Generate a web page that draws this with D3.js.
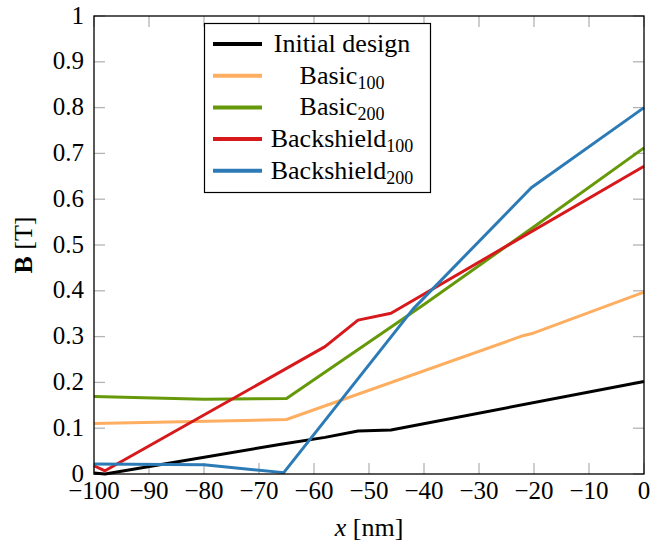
<!DOCTYPE html>
<html>
<head>
<meta charset="utf-8">
<script src="https://cdn.jsdelivr.net/npm/d3@7"></script>
<style>
  html, body { margin: 0; padding: 0; background: #fff; }
</style>
</head>
<body>
<div id="chart"></div>
<script>
// values: [x in nm, B in T]
const initialDesign = [[-100, 0.002], [-98, 0.0], [-66, 0.065], [-58, 0.08], [-52, 0.094], [-46, 0.096], [0, 0.202]];
const basic100 = [[-100, 0.11], [-65, 0.119], [-22, 0.302], [-20, 0.308], [0, 0.397]];
const basic200 = [[-100, 0.169], [-80, 0.163], [-65, 0.165], [-40, 0.37], [-20, 0.54], [0, 0.712]];
const backshield100 = [[-100, 0.018], [-98, 0.007], [-58, 0.278], [-52, 0.336], [-46, 0.351], [0, 0.672]];
const backshield200 = [[-100, 0.022], [-80, 0.02], [-65.5, 0.003], [-42, 0.36], [-20.5, 0.625], [0, 0.80]];

const seriesNames = [["Initial design", ""], ["Basic", "100"], ["Basic", "200"], ["Backshield", "100"], ["Backshield", "200"]];
const seriesData = [initialDesign, basic100, basic200, backshield100, backshield200];
const seriesColors = ["#000000", "#fdae61", "#66990a", "#d7191c", "#2c7bb6"];

const xTicks = [-100, -90, -80, -70, -60, -50, -40, -30, -20, -10, 0];
const yTicks = [0, 0.1, 0.2, 0.3, 0.4, 0.5, 0.6, 0.7, 0.8, 0.9, 1];

const W = 652, H = 544;
const m = { t: 16, r: 8, b: 70, l: 94 };
const FONT = "Liberation Serif";
const svg = d3.select("#chart").append("svg").attr("width", W).attr("height", H);

const x = d3.scaleLinear().domain([-100, 0]).range([m.l, W - m.r]);
const y = d3.scaleLinear().domain([0, 1]).range([H - m.b, m.t]);
const fs = 25, tl = 11;
const fmtX = d => (d < 0 ? "\u2212" + Math.abs(d) : String(d));
const fmtY = d => String(+d.toFixed(1));

// inside ticks on all four sides, grey
const tk = svg.append("g").attr("stroke", "#b4b4b4").attr("stroke-width", 1.3);
xTicks.forEach(t => {
  tk.append("line").attr("x1", x(t)).attr("x2", x(t)).attr("y1", y(0)).attr("y2", y(0) - tl);
  tk.append("line").attr("x1", x(t)).attr("x2", x(t)).attr("y1", y(1)).attr("y2", y(1) + tl);
});
yTicks.forEach(t => {
  tk.append("line").attr("x1", x(-100)).attr("x2", x(-100) + tl).attr("y1", y(t)).attr("y2", y(t));
  tk.append("line").attr("x1", x(0)).attr("x2", x(0) - tl).attr("y1", y(t)).attr("y2", y(t));
});

// tick labels
svg.append("g").selectAll("text").data(xTicks).join("text")
  .attr("x", d => x(d)).attr("y", y(0) + 25).attr("text-anchor", "middle")
  .attr("font-family", FONT).attr("font-size", fs).text(fmtX);
svg.append("g").selectAll("text").data(yTicks).join("text")
  .attr("x", x(-100) - 10).attr("y", d => y(d) + 7.5).attr("text-anchor", "end")
  .attr("font-family", FONT).attr("font-size", fs).text(fmtY);

// series
const line = d3.line().x(d => x(d[0])).y(d => y(d[1]));
const plot = svg.append("g");
seriesData.forEach((s, i) => {
  plot.append("path").datum(s).attr("d", line)
    .attr("fill", "none").attr("stroke", seriesColors[i])
    .attr("stroke-width", 3).attr("stroke-linejoin", "round");
});

// frame
svg.append("rect").attr("x", x(-100)).attr("y", y(1))
  .attr("width", x(0) - x(-100)).attr("height", y(0) - y(1))
  .attr("fill", "none").attr("stroke", "#000").attr("stroke-width", 1.3);

// legend
const lg = svg.append("g");
lg.append("rect").attr("x", 204.5).attr("y", 23.5).attr("width", 226).attr("height", 169)
  .attr("fill", "#fff").attr("stroke", "#000").attr("stroke-width", 1.2);
seriesNames.forEach((nm, i) => {
  const ry = 44 + i * 31.7;
  lg.append("line").attr("x1", 213).attr("x2", 262).attr("y1", ry).attr("y2", ry)
    .attr("stroke", seriesColors[i]).attr("stroke-width", 4);
  const t = lg.append("text").attr("x", 342).attr("y", ry + 8).attr("text-anchor", "middle")
    .attr("font-family", FONT).attr("font-size", 26);
  t.append("tspan").text(nm[0]);
  if (nm[1]) t.append("tspan").attr("dy", 5).attr("font-size", 18).text(nm[1]);
});

// axis labels
const xl = svg.append("text").attr("x", (x(-100) + x(0)) / 2).attr("y", 536)
  .attr("text-anchor", "middle").attr("font-family", FONT).attr("font-size", 26);
xl.append("tspan").attr("font-style", "italic").text("x");
xl.append("tspan").text(" [nm]");

const yl = svg.append("text").attr("transform", `translate(32,${(y(0) + y(1)) / 2}) rotate(-90)`)
  .attr("text-anchor", "middle").attr("font-family", FONT).attr("font-size", 26);
yl.append("tspan").attr("font-weight", "bold").text("B");
yl.append("tspan").text(" [T]");
</script>
</body>
</html>
